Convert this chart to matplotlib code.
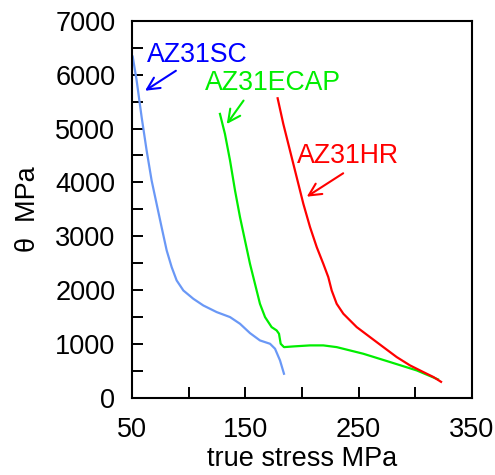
import matplotlib
matplotlib.use("Agg")
import matplotlib.pyplot as plt
import numpy as np

plt.rcParams['font.family'] = ['Liberation Sans', 'DejaVu Sans']

# Work-hardening rate theta vs true stress for three AZ31 conditions
sc_stress = [50.6, 54.1, 58.5, 62.9, 67.3, 71.7, 76.1, 80.6, 85.0, 89.4, 95.3, 104.1,
             112.9, 124.7, 136.5, 145.3, 154.1, 162.9, 171.8, 176.2, 180.6, 184.1]
sc_theta = [6334, 5889, 5209, 4591, 4035, 3602, 3170, 2737, 2428, 2181, 1995, 1841,
            1717, 1594, 1501, 1377, 1204, 1068, 1006, 914, 697, 450]

ecap_stress = [127.6, 132.0, 136.5, 140.9, 145.3, 149.7, 154.1, 158.5, 162.9, 167.4,
               173.2, 177.6, 179.7, 181.2, 184.1, 192.4, 207.1, 218.8, 230.6, 254.1,
               277.7, 301.2, 320.0]
ecap_theta = [5271, 4900, 4406, 3849, 3355, 2922, 2490, 2119, 1748, 1501,
              1315, 1254, 1192, 1006, 944, 957, 976, 976, 944, 821,
              667, 512, 345]

hr_stress = [178.5, 183.5, 189.4, 195.3, 201.2, 207.1, 213.0, 218.8, 223.2, 226.2,
             230.6, 236.5, 248.3, 260.0, 271.8, 283.6, 295.3, 307.1, 316.0, 322.7]
hr_theta = [5561, 5085, 4591, 4097, 3602, 3170, 2799, 2490, 2243, 1995,
            1748, 1563, 1315, 1130, 944, 759, 605, 481, 389, 300]

x_ticks = [50, 150, 250, 350]
y_ticks = [0, 1000, 2000, 3000, 4000, 5000, 6000, 7000]

blue_line = '#6a98f6'
green = '#00ee00'
red = '#ff0000'

fig = plt.figure(figsize=(4.95, 4.75), dpi=100)
ax = fig.add_axes([0.2667, 0.1621, 0.6868, 0.7943])

ax.plot(sc_stress, sc_theta, color=blue_line, lw=1.6)
ax.plot(ecap_stress, ecap_theta, color=green, lw=1.6)
ax.plot(hr_stress, hr_theta, color=red, lw=1.6)

ax.set_xlim(50, 350)
ax.set_ylim(0, 7000)
ax.set_xticks(x_ticks)
ax.set_yticks(y_ticks)
ax.set_xticks([100, 200, 300], minor=True)
ax.set_yticks(np.arange(500, 7000, 1000), minor=True)

ax.tick_params(which='both', direction='in', length=8, width=1.4,
               top=False, right=False, labelsize=19.5)
ax.tick_params(axis='y', which='major', pad=12)
ax.tick_params(axis='x', which='major', pad=14)
for s in ax.spines.values():
    s.set_linewidth(1.5)

ax.set_xlabel('true stress MPa', fontsize=19.5, labelpad=2)
ax.set_ylabel('\u03b8  MPa', fontsize=19.5, labelpad=10)

arrow = dict(arrowstyle='->', lw=1.5, mutation_scale=22)
ax.annotate('AZ31SC', xy=(61.5, 5701), xytext=(63.2, 6364), color='#0000ff',
            fontsize=19.2, va='center', ha='left',
            arrowprops=dict(arrow, color='#0000ff', shrinkA=0, shrinkB=0,
                            relpos=(0.33, 0.0)))
ax.annotate('AZ31ECAP', xy=(133.6, 5083), xytext=(114.4, 5853), color=green,
            fontsize=19.2, va='center', ha='left',
            arrowprops=dict(arrow, color=green, shrinkA=2, shrinkB=0,
                            relpos=(0.31, 0.0)))
ax.annotate('AZ31HR', xy=(204.2, 3735), xytext=(195.4, 4490), color=red,
            fontsize=19.2, va='center', ha='left',
            arrowprops=dict(arrow, color=red, shrinkA=2, shrinkB=0,
                            relpos=(0.52, 0.0)))

fig.savefig('out.png', dpi=100)
